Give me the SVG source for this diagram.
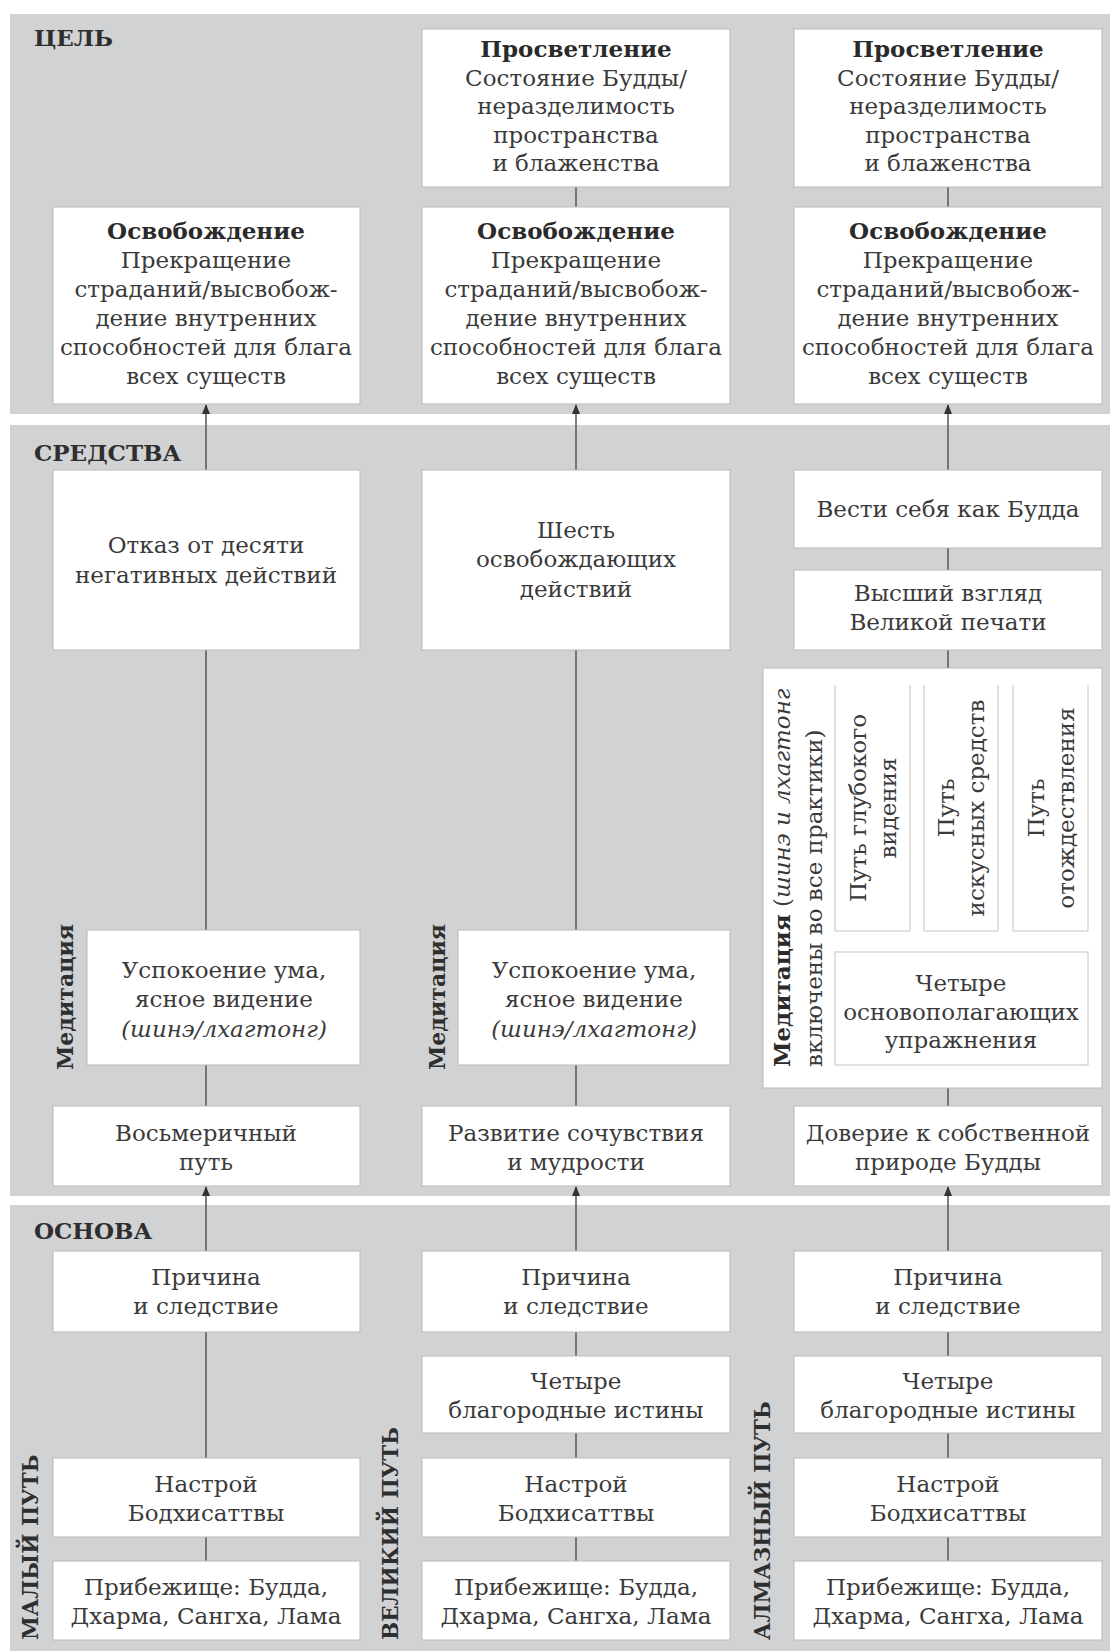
<svg xmlns="http://www.w3.org/2000/svg" width="1110" height="1651" viewBox="0 0 1110 1651">
<style>
.panel{fill:#d1d2d4}
.box{fill:#fff;stroke:#b9b9b9;stroke-width:1}
.inner{fill:#fff;stroke:#c4c4c4;stroke-width:1}
.t{font-family:"DejaVu Serif",serif;font-size:23px;fill:#3a3a3a;text-anchor:middle}
.b{font-weight:bold;fill:#2a2a2a}
.i{font-style:italic}
.h{font-family:"DejaVu Serif",serif;font-size:23px;font-weight:bold;fill:#2e2e2e}
.v{font-family:"DejaVu Serif",serif;font-size:22px;font-weight:bold;fill:#2e2e2e}
.p{font-family:"DejaVu Serif",serif;font-size:21.5px;font-weight:bold;fill:#2e2e2e}
.c{stroke:#555;stroke-width:1.5;fill:none}
.cl{stroke:#777;stroke-width:1.2;fill:none}
</style>
<defs>
<marker id="arr" markerUnits="userSpaceOnUse" markerWidth="10" markerHeight="8" refX="9" refY="4" orient="auto" viewBox="0 0 10 8">
<path d="M0,0 L10,4 L0,8 Z" fill="#333"/>
</marker>
</defs>
<rect width="1110" height="1651" fill="#fff"/>
<g id="panels">
<rect class="panel" x="10" y="14" width="1100" height="400"/>
<rect class="panel" x="10" y="425" width="1100" height="771"/>
<rect class="panel" x="10" y="1205" width="1100" height="446"/>
<text class="h" x="34" y="46">ЦЕЛЬ</text>
<text class="h" x="34" y="461">СРЕДСТВА</text>
<text class="h" x="34" y="1239">ОСНОВА</text>
</g>
<g id="connectors">
<line class="c" x1="576" y1="187" x2="576" y2="207"/>
<line class="c" x1="948" y1="187" x2="948" y2="207"/>
<line class="c" x1="206" y1="470" x2="206" y2="405" marker-end="url(#arr)"/>
<line class="c" x1="576" y1="470" x2="576" y2="405" marker-end="url(#arr)"/>
<line class="c" x1="948" y1="470" x2="948" y2="405" marker-end="url(#arr)"/>
<line class="c" x1="206" y1="650" x2="206" y2="930"/>
<line class="c" x1="206" y1="1065" x2="206" y2="1106"/>
<line class="c" x1="576" y1="650" x2="576" y2="930"/>
<line class="c" x1="576" y1="1065" x2="576" y2="1106"/>
<line class="c" x1="948" y1="548" x2="948" y2="570"/>
<line class="c" x1="948" y1="650" x2="948" y2="676"/>
<path class="cl" d="M872 685 V676 H1052 V685 M960 676 V684"/>
<path class="cl" d="M872 931 L893 952 M961 931 V952 M1052 931 L1027 952"/>
<line class="c" x1="948" y1="1088" x2="948" y2="1106"/>
<line class="c" x1="206" y1="1251" x2="206" y2="1187" marker-end="url(#arr)"/>
<line class="c" x1="576" y1="1251" x2="576" y2="1187" marker-end="url(#arr)"/>
<line class="c" x1="948" y1="1251" x2="948" y2="1187" marker-end="url(#arr)"/>
<line class="c" x1="206" y1="1332" x2="206" y2="1458"/>
<line class="c" x1="206" y1="1537" x2="206" y2="1561"/>
<line class="c" x1="576" y1="1332" x2="576" y2="1356"/>
<line class="c" x1="576" y1="1433" x2="576" y2="1458"/>
<line class="c" x1="576" y1="1537" x2="576" y2="1561"/>
<line class="c" x1="948" y1="1332" x2="948" y2="1356"/>
<line class="c" x1="948" y1="1433" x2="948" y2="1458"/>
<line class="c" x1="948" y1="1537" x2="948" y2="1561"/>
</g>
<g id="goal-enlightenment-2">
<rect class="box" x="422" y="29" width="308" height="158"/>
<text class="t"><tspan class="b" x="576" y="57">Просветление</tspan><tspan x="576" y="86">Состояние Будды/</tspan><tspan x="576" y="114">неразделимость</tspan><tspan x="576" y="143">пространства</tspan><tspan x="576" y="171">и блаженства</tspan></text>
</g>
<g id="goal-enlightenment-3">
<rect class="box" x="794" y="29" width="308" height="158"/>
<text class="t"><tspan class="b" x="948" y="57">Просветление</tspan><tspan x="948" y="86">Состояние Будды/</tspan><tspan x="948" y="114">неразделимость</tspan><tspan x="948" y="143">пространства</tspan><tspan x="948" y="171">и блаженства</tspan></text>
</g>
<g id="goal-liberation-1">
<rect class="box" x="53" y="207" width="307" height="197"/>
<text class="t"><tspan class="b" x="206" y="239">Освобождение</tspan><tspan x="206" y="268">Прекращение</tspan><tspan x="206" y="297">страданий/высвобож-</tspan><tspan x="206" y="326">дение внутренних</tspan><tspan x="206" y="355">способностей для блага</tspan><tspan x="206" y="384">всех существ</tspan></text>
</g>
<g id="goal-liberation-2">
<rect class="box" x="422" y="207" width="308" height="197"/>
<text class="t"><tspan class="b" x="576" y="239">Освобождение</tspan><tspan x="576" y="268">Прекращение</tspan><tspan x="576" y="297">страданий/высвобож-</tspan><tspan x="576" y="326">дение внутренних</tspan><tspan x="576" y="355">способностей для блага</tspan><tspan x="576" y="384">всех существ</tspan></text>
</g>
<g id="goal-liberation-3">
<rect class="box" x="794" y="207" width="308" height="197"/>
<text class="t"><tspan class="b" x="948" y="239">Освобождение</tspan><tspan x="948" y="268">Прекращение</tspan><tspan x="948" y="297">страданий/высвобож-</tspan><tspan x="948" y="326">дение внутренних</tspan><tspan x="948" y="355">способностей для блага</tspan><tspan x="948" y="384">всех существ</tspan></text>
</g>
<g id="means-1-renounce">
<rect class="box" x="53" y="470" width="307" height="180"/>
<text class="t"><tspan x="206" y="553">Отказ от десяти</tspan><tspan x="206" y="583">негативных действий</tspan></text>
</g>
<g id="means-2-six">
<rect class="box" x="422" y="470" width="308" height="180"/>
<text class="t"><tspan x="576" y="538">Шесть</tspan><tspan x="576" y="567">освобождающих</tspan><tspan x="576" y="597">действий</tspan></text>
</g>
<g id="means-3-behave">
<rect class="box" x="794" y="470" width="308" height="78"/>
<text class="t" x="948" y="517">Вести себя как Будда</text>
</g>
<g id="means-3-view">
<rect class="box" x="794" y="570" width="308" height="80"/>
<text class="t"><tspan x="948" y="601">Высший взгляд</tspan><tspan x="948" y="630">Великой печати</tspan></text>
</g>
<g id="means-1-meditation">
<rect class="box" x="87" y="930" width="273" height="135"/>
<text class="t"><tspan x="224" y="978">Успокоение ума,</tspan><tspan x="224" y="1007">ясное видение</tspan><tspan class="i" x="224" y="1037">(шинэ/лхагтонг)</tspan></text>
<text class="v" text-anchor="middle" transform="translate(73,997) rotate(-90)">Медитация</text>
</g>
<g id="means-2-meditation">
<rect class="box" x="458" y="930" width="272" height="135"/>
<text class="t"><tspan x="594" y="978">Успокоение ума,</tspan><tspan x="594" y="1007">ясное видение</tspan><tspan class="i" x="594" y="1037">(шинэ/лхагтонг)</tspan></text>
<text class="v" text-anchor="middle" transform="translate(445,997) rotate(-90)">Медитация</text>
</g>
<g id="means-3-meditation">
<rect class="box" x="763" y="668" width="339" height="420"/>
<text class="t" style="text-anchor:start" transform="translate(790,1067) rotate(-90)"><tspan class="b">Медитация</tspan> (<tspan class="i">шинэ и лхагтонг</tspan></text>
<text class="t" style="text-anchor:start" transform="translate(822,1067) rotate(-90)">включены во все практики)</text>
<path class="inner" d="M835 685 V931 H910 V685"/>
<path class="inner" d="M924 685 V931 H998 V685"/>
<path class="inner" d="M1013 685 V931 H1088 V685"/>
<text class="t" transform="translate(866,808) rotate(-90)"><tspan x="0" y="0">Путь глубокого</tspan><tspan x="0" y="30">видения</tspan></text>
<text class="t" transform="translate(954,808) rotate(-90)"><tspan x="0" y="0">Путь</tspan><tspan x="0" y="30">искусных средств</tspan></text>
<text class="t" transform="translate(1044,808) rotate(-90)"><tspan x="0" y="0">Путь</tspan><tspan x="0" y="30">отождествления</tspan></text>
</g>
<g id="means-3-four-preliminaries">
<rect class="inner" x="835" y="952" width="253" height="113"/>
<text class="t"><tspan x="961" y="991">Четыре</tspan><tspan x="961" y="1020">основополагающих</tspan><tspan x="961" y="1048">упражнения</tspan></text>
</g>
<g id="means-1-eightfold">
<rect class="box" x="53" y="1106" width="307" height="80"/>
<text class="t"><tspan x="206" y="1141">Восьмеричный</tspan><tspan x="206" y="1170">путь</tspan></text>
</g>
<g id="means-2-compassion">
<rect class="box" x="422" y="1106" width="308" height="80"/>
<text class="t"><tspan x="576" y="1141">Развитие сочувствия</tspan><tspan x="576" y="1170">и мудрости</tspan></text>
</g>
<g id="means-3-trust">
<rect class="box" x="794" y="1106" width="308" height="80"/>
<text class="t"><tspan x="948" y="1141">Доверие к собственной</tspan><tspan x="948" y="1170">природе Будды</tspan></text>
</g>
<g id="basis-1-cause">
<rect class="box" x="53" y="1251" width="307" height="81"/>
<text class="t"><tspan x="206" y="1285">Причина</tspan><tspan x="206" y="1314">и следствие</tspan></text>
</g>
<g id="basis-1-attitude">
<rect class="box" x="53" y="1458" width="307" height="79"/>
<text class="t"><tspan x="206" y="1492">Настрой</tspan><tspan x="206" y="1521">Бодхисаттвы</tspan></text>
</g>
<g id="basis-1-refuge">
<rect class="box" x="53" y="1561" width="307" height="79"/>
<text class="t"><tspan x="206" y="1595">Прибежище: Будда,</tspan><tspan x="206" y="1624">Дхарма, Сангха, Лама</tspan></text>
</g>
<g id="basis-2-cause">
<rect class="box" x="422" y="1251" width="308" height="81"/>
<text class="t"><tspan x="576" y="1285">Причина</tspan><tspan x="576" y="1314">и следствие</tspan></text>
</g>
<g id="basis-2-truths">
<rect class="box" x="422" y="1356" width="308" height="77"/>
<text class="t"><tspan x="576" y="1389">Четыре</tspan><tspan x="576" y="1418">благородные истины</tspan></text>
</g>
<g id="basis-2-attitude">
<rect class="box" x="422" y="1458" width="308" height="79"/>
<text class="t"><tspan x="576" y="1492">Настрой</tspan><tspan x="576" y="1521">Бодхисаттвы</tspan></text>
</g>
<g id="basis-2-refuge">
<rect class="box" x="422" y="1561" width="308" height="79"/>
<text class="t"><tspan x="576" y="1595">Прибежище: Будда,</tspan><tspan x="576" y="1624">Дхарма, Сангха, Лама</tspan></text>
</g>
<g id="basis-3-cause">
<rect class="box" x="794" y="1251" width="308" height="81"/>
<text class="t"><tspan x="948" y="1285">Причина</tspan><tspan x="948" y="1314">и следствие</tspan></text>
</g>
<g id="basis-3-truths">
<rect class="box" x="794" y="1356" width="308" height="77"/>
<text class="t"><tspan x="948" y="1389">Четыре</tspan><tspan x="948" y="1418">благородные истины</tspan></text>
</g>
<g id="basis-3-attitude">
<rect class="box" x="794" y="1458" width="308" height="79"/>
<text class="t"><tspan x="948" y="1492">Настрой</tspan><tspan x="948" y="1521">Бодхисаттвы</tspan></text>
</g>
<g id="basis-3-refuge">
<rect class="box" x="794" y="1561" width="308" height="79"/>
<text class="t"><tspan x="948" y="1595">Прибежище: Будда,</tspan><tspan x="948" y="1624">Дхарма, Сангха, Лама</tspan></text>
</g>
<g id="path-labels">
<text class="p" transform="translate(38,1640) rotate(-90)">МАЛЫЙ ПУТЬ</text>
<text class="p" transform="translate(398,1640) rotate(-90)">ВЕЛИКИЙ ПУТЬ</text>
<text class="p" transform="translate(770,1640) rotate(-90)">АЛМАЗНЫЙ ПУТЬ</text>
</g>
</svg>
